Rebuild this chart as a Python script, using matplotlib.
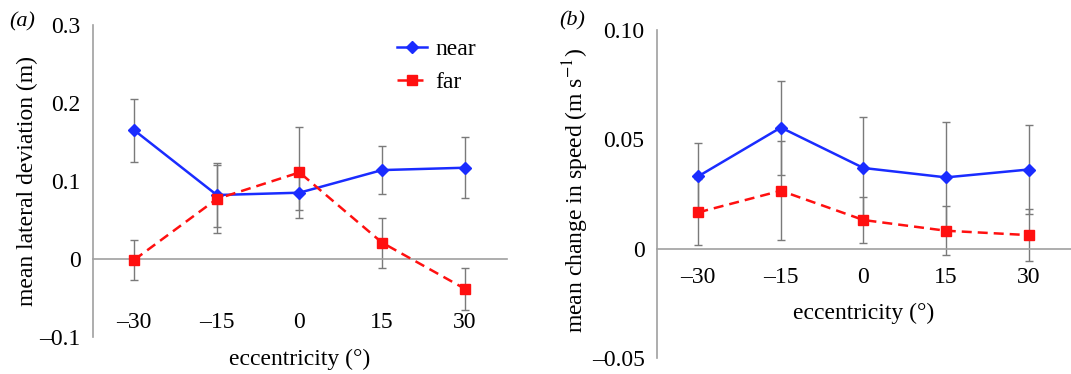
import numpy as np
import matplotlib
matplotlib.use("Agg")
from matplotlib import pyplot as plt

plt.rcParams['font.family'] = ['Liberation Serif', 'DejaVu Serif']
plt.rcParams['mathtext.fontset'] = 'stix'

ecc = [-30, -15, 0, 15, 30]

# (a) mean lateral deviation (m)
dev_near = [0.165, 0.082, 0.085, 0.114, 0.117]
dev_near_err = [0.040, 0.041, 0.022, 0.031, 0.039]
dev_far = [-0.001, 0.077, 0.111, 0.021, -0.038]
dev_far_err = [0.026, 0.044, 0.058, 0.032, 0.027]

# (b) mean change in speed (m s-1)
spd_near = [0.0331, 0.0554, 0.0369, 0.0326, 0.0362]
spd_near_err = [0.0151, 0.0215, 0.0234, 0.0251, 0.0204]
spd_far = [0.0166, 0.0265, 0.0131, 0.0082, 0.0062]
spd_far_err = [0.0151, 0.0227, 0.0103, 0.0113, 0.0120]

BLUE = '#1a2cff'
RED = '#ff1010'
GREY = '#7a7a7a'
SPINE = '#a0a0a0'
FS = 17

fig = plt.figure(figsize=(10.71, 3.74), dpi=100)
W, H = 1071, 374


def ax_at(l, r, t, b):
    return fig.add_axes([l / W, 1 - b / H, (r - l) / W, (b - t) / H])


def style(ax, ylim, yticks, ylabels, xpad):
    ax.set_xlim(-37.5, 37.7)
    ax.set_ylim(*ylim)
    ax.set_yticks(yticks)
    ax.set_yticklabels(ylabels)
    ax.set_xticks(ecc)
    ax.set_xticklabels(['\u201330', '\u201315', '0', '15', '30'])
    for s in ['top', 'right']:
        ax.spines[s].set_visible(False)
    ax.spines['bottom'].set_position(('data', 0))
    ax.spines['left'].set_color(SPINE)
    ax.spines['bottom'].set_color(SPINE)
    ax.spines['left'].set_linewidth(1.2)
    ax.spines['bottom'].set_linewidth(1.2)
    ax.tick_params(axis='both', length=0, labelsize=FS)
    ax.tick_params(axis='y', pad=9)
    ax.tick_params(axis='x', pad=xpad)


def draw(ax, near, near_err, far, far_err):
    ax.errorbar(ecc, near, yerr=near_err, fmt='none', ecolor=GREY,
                elinewidth=1, capsize=3, capthick=1, zorder=2)
    ax.errorbar(ecc, far, yerr=far_err, fmt='none', ecolor=GREY,
                elinewidth=1, capsize=3, capthick=1, zorder=2)
    ax.plot(ecc, near, color=BLUE, lw=1.8, marker='D', ms=6.5, label='near',
            zorder=3)
    ax.plot(ecc, far, color=RED, lw=1.8, ls=(0, (4, 2.4)), marker='s', ms=7.5,
            label='far', zorder=3)


# panel (a)
ax1 = ax_at(93, 507, 25, 337)
draw(ax1, dev_near, dev_near_err, dev_far, dev_far_err)
style(ax1, (-0.1, 0.3), [-0.1, 0, 0.1, 0.2, 0.3],
      ['\u20130.1', '0', '0.1', '0.2', '0.3'], 38)
ax1.set_xlabel('eccentricity (°)', fontsize=FS)
ax1.xaxis.label.set_va('center')
ax1.xaxis.set_label_coords(0.5, -0.072)
ax1.set_ylabel('mean lateral deviation (m)', fontsize=FS)
ax1.yaxis.label.set_va('center')
ax1.yaxis.set_label_coords(-0.159, 0.5)
ax1.legend(frameon=False, loc='upper left', bbox_to_anchor=(0.705, 0.995),
           fontsize=FS, handlelength=1.3, labelspacing=0.5, borderpad=0,
           handletextpad=0.35)

# panel (b)
ax2 = ax_at(657, 1071, 30, 358)
draw(ax2, spd_near, spd_near_err, spd_far, spd_far_err)
style(ax2, (-0.05, 0.10), [-0.05, 0, 0.05, 0.10],
      ['\u20130.05', '0', '0.05', '0.10'], 13)
ax2.set_xlabel('eccentricity (°)', fontsize=FS)
ax2.xaxis.label.set_va('center')
ax2.xaxis.set_label_coords(0.5, 0.137)
ax2.set_ylabel('mean change in speed (m s$^{\u22121}$)', fontsize=FS)
ax2.yaxis.label.set_va('center')
ax2.yaxis.set_label_coords(-0.196, 0.512)

fig.text(22 / W, 1 - 22 / H, '(a)', fontsize=16, style='italic',
         ha='center', va='center')
fig.text(572 / W, 1 - 21 / H, '(b)', fontsize=16, style='italic',
         ha='center', va='center')

fig.savefig('out.png', dpi=100)
